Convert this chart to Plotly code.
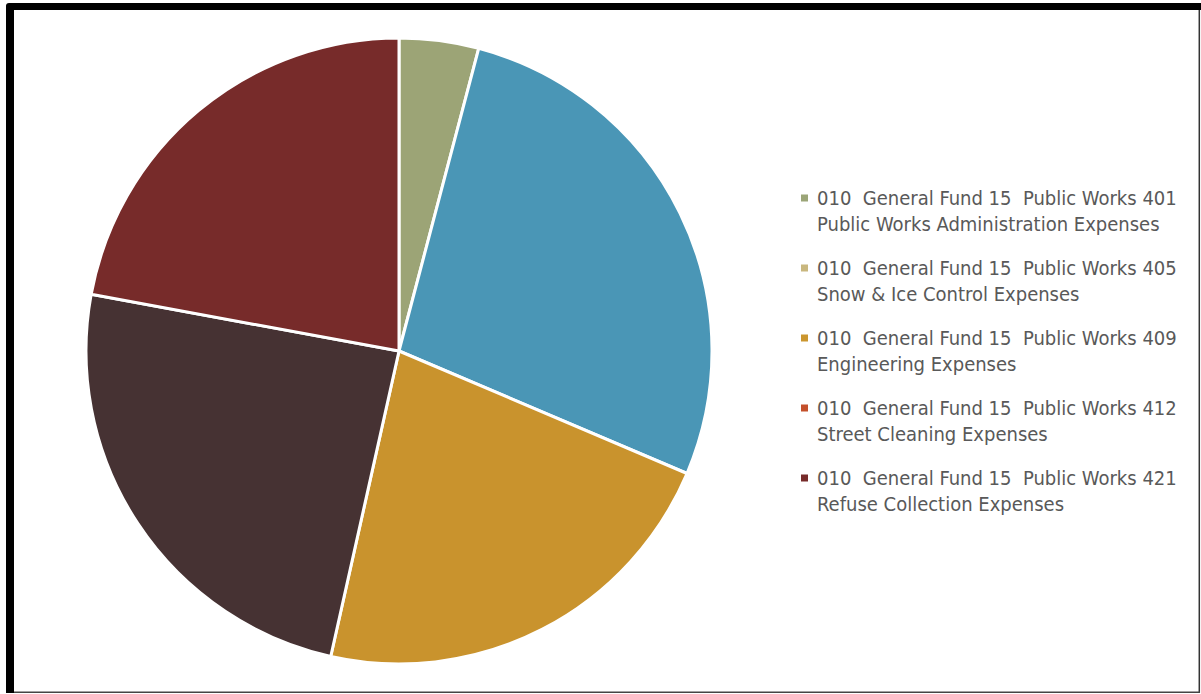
import plotly.graph_objects as go

# Public Works expense categories (General Fund 010, Dept 15)
categories = [
    "010\u00a0 General Fund 15\u00a0 Public Works 401<br>Public Works Administration Expenses",
    "010\u00a0 General Fund 15\u00a0 Public Works 405<br>Snow & Ice Control Expenses",
    "010\u00a0 General Fund 15\u00a0 Public Works 409<br>Engineering Expenses",
    "010\u00a0 General Fund 15\u00a0 Public Works 412<br>Street Cleaning Expenses",
    "010\u00a0 General Fund 15\u00a0 Public Works 421<br>Refuse Collection Expenses",
]
# share of expenses (%)
shares = [4.1, 27.3, 22.1, 24.4, 22.1]

slice_colors = ["#9CA476", "#4A96B6", "#C9932D", "#463233", "#772B2A"]
legend_colors = ["#9BA577", "#C9B77E", "#CB962E", "#C4502B", "#772B2A"]

W, H = 1201, 694
FONT = "DejaVu Sans Condensed, Liberation Sans Narrow, Arial Narrow, sans-serif"
TEXT_COLOR = "#595959"


def fx(px):
    return px / W


def fy(py):
    return 1 - py / H


# pie placement: centre and radius in pixels
cx, cy, r = 399, 351, 313

fig = go.Figure(
    go.Pie(
        labels=categories,
        values=shares,
        sort=False,
        direction="clockwise",
        rotation=0,
        marker=dict(colors=slice_colors, line=dict(color="white", width=3)),
        textinfo="none",
        hoverinfo="label+percent",
        showlegend=False,
        domain=dict(x=[fx(cx - r), fx(cx + r)], y=[fy(cy + r), fy(cy - r)]),
    )
)

shapes = []
annotations = []

# legend block: swatch + two text lines per entry
leg_x, leg_y0, leg_step, line_gap = 801, 198, 70, 26
for i, (label, col) in enumerate(zip(categories, legend_colors)):
    yc = leg_y0 + i * leg_step
    shapes.append(dict(
        type="rect", xref="paper", yref="paper",
        x0=fx(leg_x), x1=fx(leg_x + 7), y0=fy(yc + 3.5), y1=fy(yc - 3.5),
        fillcolor=col, line=dict(width=0),
    ))
    for j, line in enumerate(label.split("<br>")):
        annotations.append(dict(
            xref="paper", yref="paper", x=fx(815), y=fy(yc + j * line_gap),
            xanchor="left", yanchor="middle", showarrow=False, text=line,
            font=dict(family=FONT, size=20, color=TEXT_COLOR),
        ))

# frame: heavy top/left edge, thin right/bottom edge
frame_path = (
    f"M {fx(6)},{fy(693)} L {fx(6)},{fy(6)} Q {fx(6)},{fy(3)} {fx(9)},{fy(3)} "
    f"L {fx(1201)},{fy(3)} L {fx(1201)},{fy(10)} L {fx(14)},{fy(10)} L {fx(14)},{fy(693)} Z"
)
shapes.append(dict(type="path", xref="paper", yref="paper", path=frame_path,
                   fillcolor="black", line=dict(width=0)))
shapes.append(dict(type="line", xref="paper", yref="paper",
                   x0=fx(1199.3), x1=fx(1199.3), y0=fy(10), y1=fy(693),
                   line=dict(color="#333333", width=1.5)))
shapes.append(dict(type="line", xref="paper", yref="paper",
                   x0=fx(14), x1=fx(1200), y0=fy(692.3), y1=fy(692.3),
                   line=dict(color="#444444", width=1.5)))

fig.update_layout(
    width=W, height=H,
    margin=dict(l=0, r=0, t=0, b=0),
    paper_bgcolor="white", plot_bgcolor="white",
    shapes=shapes, annotations=annotations,
    font=dict(family=FONT, color=TEXT_COLOR),
)

fig.write_html("out.html", config={"displayModeBar": False})
